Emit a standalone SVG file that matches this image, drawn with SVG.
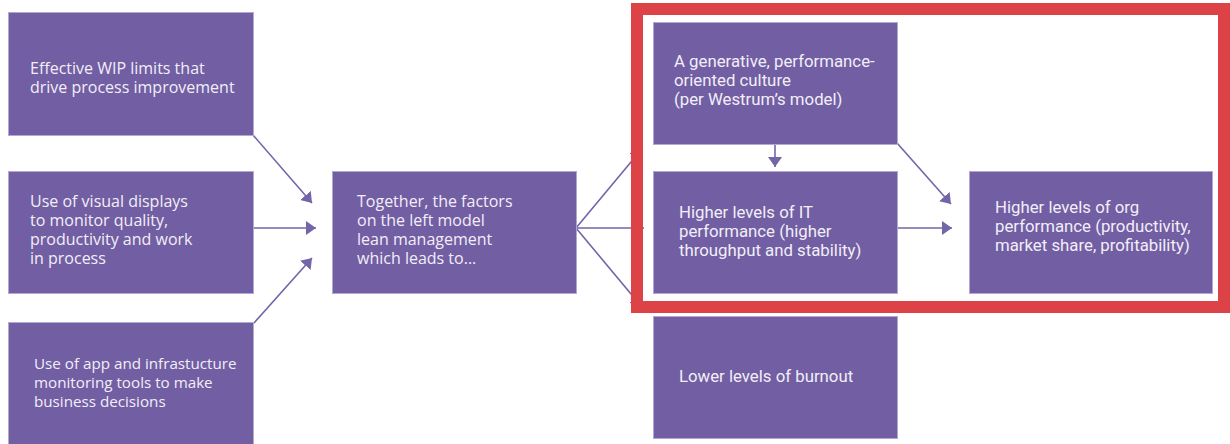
<svg xmlns="http://www.w3.org/2000/svg" width="1230" height="444" viewBox="0 0 1230 444">
  <style>
    .box { fill: #725ea3; stroke: #b4a7d3; stroke-width: 1; }
    .lbl { fill: #f1eef7; font-family: "Open Sans", "Noto Sans", sans-serif; font-size: 16px; }
    .small { font-size: 15.2px; }
    .lbl2 { fill: #f1eef7; font-family: Roboto, "Open Sans", sans-serif; font-size: 16.8px; }
    .conn { stroke: #7464a8; stroke-width: 1.6; fill: none; marker-end: url(#head); }
  </style>
  <defs>
    <marker id="head" viewBox="0 0 10 14" refX="10" refY="7" markerWidth="10" markerHeight="14" markerUnits="userSpaceOnUse" orient="auto">
      <path d="M0,0 L10,7 L0,14 Z" fill="#7464a8"/>
    </marker>
  </defs>

  <rect width="1230" height="444" fill="#ffffff"/>

  <!-- connectors -->
  <g id="connectors">
    <line class="conn" x1="253" y1="135" x2="312" y2="203"/>
    <line class="conn" x1="253" y1="228" x2="316" y2="228"/>
    <line class="conn" x1="254" y1="323" x2="312" y2="258"/>
    <line class="conn" x1="576" y1="228" x2="641" y2="150"/>
    <line class="conn" x1="576" y1="228" x2="644" y2="228"/>
    <line class="conn" x1="576" y1="228" x2="641" y2="306"/>
    <line class="conn" x1="775" y1="145" x2="775" y2="167"/>
    <line class="conn" x1="897" y1="143" x2="951" y2="204"/>
    <line class="conn" x1="897" y1="228" x2="952" y2="228"/>
  </g>

  <g id="wip-limits">
    <rect class="box" x="8.5" y="12.5" width="245" height="123"/>
    <text class="lbl" x="30" y="74">Effective WIP limits that<tspan x="30" dy="19">drive process improvement</tspan></text>
  </g>

  <g id="visual-displays">
    <rect class="box" x="8.5" y="171.5" width="245" height="122"/>
    <text class="lbl" x="30" y="207">Use of visual displays<tspan x="30" dy="19">to monitor quality,</tspan><tspan x="30" dy="19">productivity and work</tspan><tspan x="30" dy="19">in process</tspan></text>
  </g>

  <g id="monitoring-tools">
    <rect class="box" x="8.5" y="322.5" width="245" height="125"/>
    <text class="lbl small" x="34" y="369">Use of app and infrastucture<tspan x="34" dy="19">monitoring tools to make</tspan><tspan x="34" dy="19">business decisions</tspan></text>
  </g>

  <g id="lean-management">
    <rect class="box" x="332.5" y="171.5" width="244" height="122"/>
    <text class="lbl" x="357" y="207">Together, the factors<tspan x="357" dy="19">on the left model</tspan><tspan x="357" dy="19">lean management</tspan><tspan x="357" dy="19">which leads to...</tspan></text>
  </g>

  <g id="generative-culture">
    <rect class="box" x="653.5" y="22.5" width="244" height="122"/>
    <text class="lbl2" x="674" y="67">A generative, performance-<tspan x="674" dy="19">oriented culture</tspan><tspan x="674" dy="19">(per Westrum’s model)</tspan></text>
  </g>

  <g id="it-performance">
    <rect class="box" x="653.5" y="171.5" width="244" height="122"/>
    <text class="lbl2" x="679" y="218">Higher levels of IT<tspan x="679" dy="19">performance (higher</tspan><tspan x="679" dy="19">throughput and stability)</tspan></text>
  </g>

  <g id="org-performance">
    <rect class="box" x="969.5" y="171.5" width="243" height="122"/>
    <text class="lbl2" x="995" y="213">Higher levels of org<tspan x="995" dy="19">performance (productivity,</tspan><tspan x="995" dy="19">market share, profitability)</tspan></text>
  </g>

  <g id="burnout">
    <rect class="box" x="653.5" y="316.5" width="244" height="122"/>
    <text class="lbl2" x="679" y="382">Lower levels of burnout</text>
  </g>

  <!-- highlight frame -->
  <rect id="highlight" x="637" y="9" width="587" height="298" fill="none" stroke="#dd4246" stroke-width="12"/>
</svg>
